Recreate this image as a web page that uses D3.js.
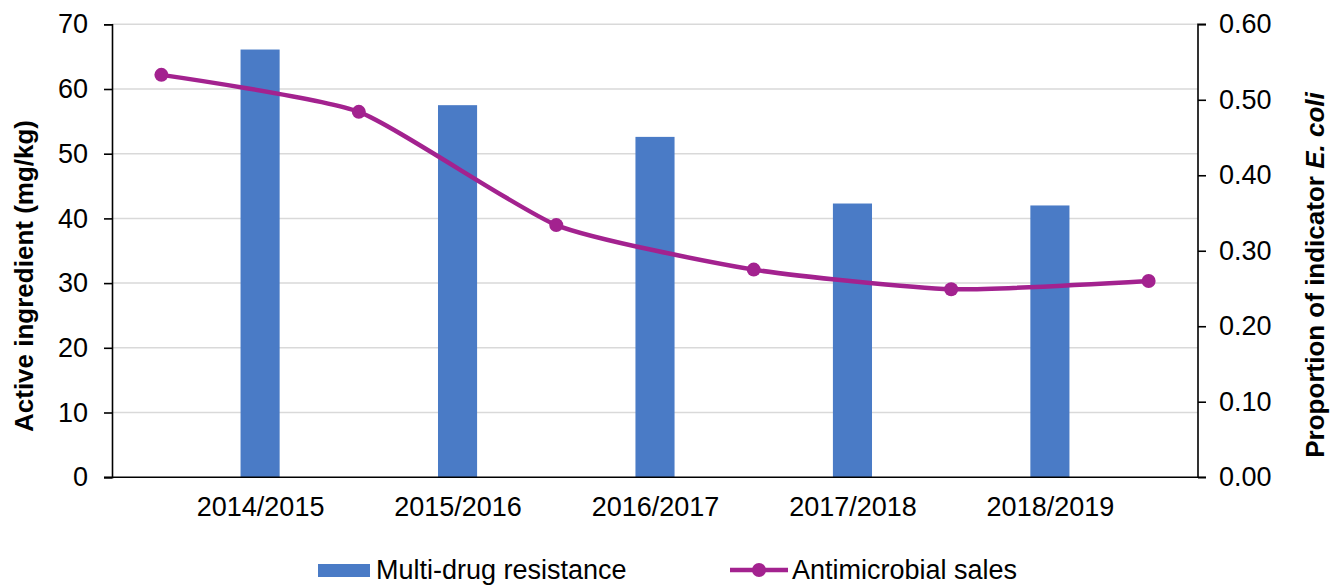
<!DOCTYPE html>
<html lang="en">
<head>
    <meta charset="UTF-8">
    <title>Multi-drug resistance and antimicrobial sales</title>
    <script src="https://d3js.org/d3.v7.min.js"></script>
    <style>
        body { margin: 0; background: #fff; }
        text { font-family: "Liberation Sans", Arial, sans-serif; fill: #000; }
    </style>
</head>
<body>
<script>
    // data
    const seasons = ["2014/2015", "2015/2016", "2016/2017", "2017/2018", "2018/2019"];
    const mdr = [66.1, 57.5, 52.6, 42.3, 42.0];               // bars, left axis (mg/kg)
    const sales = [0.533, 0.484, 0.334, 0.275, 0.249, 0.260];  // line, right axis
    const leftTicks = [0, 10, 20, 30, 40, 50, 60, 70];
    const rightTicks = [0, 0.1, 0.2, 0.3, 0.4, 0.5, 0.6];

    const width = 1341;
    const height = 585;
    const plot = { left: 112, right: 1198, top: 24.3, bottom: 477.2 };

    const svg = d3.select("body").append("svg")
        .attr("width", width)
        .attr("height", height);

    // categories sit at integer positions; line points sit between them
    const x = d3.scaleLinear()
        .domain([-0.75, seasons.length - 0.25])
        .range([plot.left, plot.right]);

    const yLeft = d3.scaleLinear()
        .domain([0, 70])
        .range([plot.bottom, plot.top]);

    const yRight = d3.scaleLinear()
        .domain([0, 0.6])
        .range([plot.bottom, plot.top]);

    const step = x(1) - x(0);
    const barWidth = step * 0.198;

    // gridlines
    svg.append("g")
        .selectAll("line")
        .data(leftTicks.filter(d => d > 0))
        .join("line")
        .attr("x1", plot.left)
        .attr("x2", plot.right)
        .attr("y1", d => yLeft(d))
        .attr("y2", d => yLeft(d))
        .attr("stroke", "#d9d9d9")
        .attr("stroke-width", 1.5);

    // bars
    svg.append("g")
        .selectAll("rect")
        .data(mdr)
        .join("rect")
        .attr("x", (d, i) => x(i) - barWidth / 2)
        .attr("y", d => yLeft(d))
        .attr("width", barWidth)
        .attr("height", d => yLeft(0) - yLeft(d))
        .attr("fill", "#4a7bc6");

    // axes
    const leftAxis = svg.append("g")
        .attr("transform", `translate(${plot.left},0)`)
        .call(d3.axisLeft(yLeft).tickValues(leftTicks).tickSize(8).tickPadding(16));

    const rightAxis = svg.append("g")
        .attr("transform", `translate(${plot.right},0)`)
        .call(d3.axisRight(yRight).tickValues(rightTicks).tickSize(8).tickPadding(13)
            .tickFormat(d3.format(".2f")));

    const bottomAxis = svg.append("g")
        .attr("transform", `translate(0,${plot.bottom})`)
        .call(d3.axisBottom(x).tickValues(d3.range(seasons.length)).tickSize(0).tickPadding(20)
            .tickFormat(i => seasons[i]));

    [leftAxis, rightAxis, bottomAxis].forEach(g => {
        g.select(".domain").attr("stroke", "#000").attr("stroke-width", 1.6);
        g.selectAll(".tick line").attr("stroke", "#000").attr("stroke-width", 1.6);
        g.selectAll("text").attr("font-size", 27).attr("fill", "#000")
            .style("font-family", "Liberation Sans, Arial, sans-serif");
    });
    rightAxis.select(".domain").attr("d", `M8,${plot.top}H0V${plot.bottom}H8`);
    bottomAxis.select(".domain").attr("d", `M${plot.left - 8},0H${plot.right}`);

    // line, smoothed like the spreadsheet chart
    const line = d3.line()
        .x((d, i) => x(i - 0.5))
        .y(d => yRight(d))
        .curve(d3.curveCardinal.tension(0.45));

    svg.append("path")
        .datum(sales)
        .attr("fill", "none")
        .attr("stroke", "#a3228f")
        .attr("stroke-width", 4.5)
        .attr("d", line);

    svg.append("g")
        .selectAll("circle")
        .data(sales)
        .join("circle")
        .attr("cx", (d, i) => x(i - 0.5))
        .attr("cy", d => yRight(d))
        .attr("r", 7)
        .attr("fill", "#a3228f");

    // axis titles
    svg.append("text")
        .attr("transform", "translate(33,276) rotate(-90)")
        .attr("text-anchor", "middle")
        .attr("font-size", 26)
        .attr("font-weight", "bold")
        .text("Active ingredient (mg/kg)");

    const rt = svg.append("text")
        .attr("transform", "translate(1324,275) rotate(-90)")
        .attr("text-anchor", "middle")
        .attr("font-size", 26)
        .attr("font-weight", "bold");
    rt.append("tspan").text("Proportion of indicator ");
    rt.append("tspan").attr("font-style", "italic").text("E. coli");

    // legend
    const legend = svg.append("g");
    legend.append("rect")
        .attr("x", 318).attr("y", 564)
        .attr("width", 52).attr("height", 13)
        .attr("fill", "#4a7bc6");
    legend.append("text")
        .attr("x", 376).attr("y", 579)
        .attr("font-size", 27)
        .text("Multi-drug resistance");

    legend.append("line")
        .attr("x1", 730).attr("x2", 788)
        .attr("y1", 570).attr("y2", 570)
        .attr("stroke", "#a3228f")
        .attr("stroke-width", 4.5);
    legend.append("circle")
        .attr("cx", 759).attr("cy", 570).attr("r", 7)
        .attr("fill", "#a3228f");
    legend.append("text")
        .attr("x", 792).attr("y", 579)
        .attr("font-size", 27)
        .text("Antimicrobial sales");
</script>
</body>
</html>
